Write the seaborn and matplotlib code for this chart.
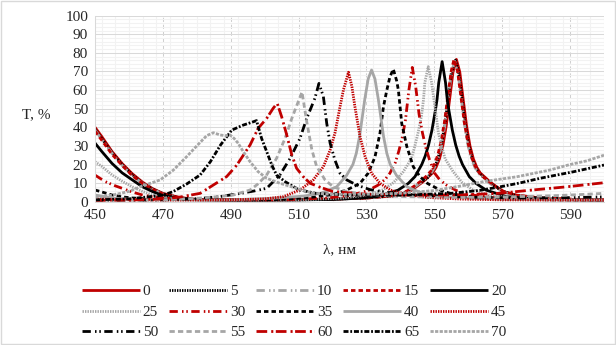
import matplotlib
matplotlib.use("Agg")
import matplotlib.pyplot as plt
from matplotlib.ticker import MultipleLocator
from matplotlib.patches import Rectangle
import pandas as pd
import seaborn as sns

# ---------------- data ----------------
angles = [0, 5, 10, 15, 20, 25, 30, 35, 40, 45, 50, 55, 60, 65, 70]

wl_0 = [450, 452, 455, 458, 461, 464, 467, 470, 475, 480, 490, 500, 510, 520, 530, 538, 542.5, 544.5, 546.5, 548,
        549.5, 550.5, 551.5, 552.5, 553.5, 554.5, 555.5, 556.5, 557.5, 558.5, 559.5, 560.5, 561.5, 562.5, 563.5,
        565, 566.5, 568.5, 570.5, 574.5, 581.5, 591.5, 600]
t_0 = [40, 35, 27, 20.5, 15, 10.5, 7, 4.5, 2.2, 1.2, 1, 1, 1.1, 1.4, 2, 3.2, 5.3, 7.8, 10.5, 13,
       15.5, 18.5, 23, 30, 40.7, 55, 69.7, 76.5, 69.7, 55, 40.7, 30, 23, 18.5, 15.5,
       13, 10.5, 7.8, 5.4, 3.3, 2, 1.2, 1]

wl_5 = [450, 452, 455, 458, 461, 464, 467, 470, 475, 480, 490, 500, 510, 520, 530, 538, 542, 544, 546, 548,
        549, 550, 551, 552, 553, 554, 555, 556.2, 557, 558, 559, 560, 561, 562, 563, 564.5, 566, 568, 570,
        574, 581, 591, 600]
t_5 = [39, 34, 26.5, 20, 14.5, 10, 6.8, 4.3, 2.1, 1.1, 0.9, 0.9, 1, 1.3, 2, 3.1, 5.2, 7.7, 10.4, 12.8,
       15.3, 18.3, 22.8, 29.8, 40.4, 54.6, 69.2, 76, 71, 58, 43, 32, 24, 19, 16, 13.2, 10.8, 8, 5.7,
       3.4, 2, 1.2, 1]

wl_10 = [450, 452, 455, 458, 461, 464, 467, 470, 475, 480, 490, 500, 510, 520, 530, 538, 542, 544, 546, 547.5,
         549, 550, 551, 552, 553, 554, 555, 556, 557, 558, 559, 560, 561, 562, 563, 564.5, 566, 568, 570,
         574, 581, 591, 600]
t_10 = [38.5, 33.5, 26, 19.5, 14, 9.8, 6.6, 4.2, 2, 1.1, 0.9, 0.9, 1, 1.3, 2, 3.2, 5.3, 7.7, 10.3, 12.8,
        15.3, 18.3, 22.7, 29.6, 40, 54.3, 68.8, 75.5, 68.8, 54.3, 40, 29.6, 22.7, 18.3, 15.3, 12.8, 10.3, 7.7, 5.3,
        3.3, 2, 1.2, 1]

wl_15 = [450, 452, 455, 458, 461, 464, 467, 470, 475, 480, 490, 500, 510, 520, 531, 538, 542, 544, 546, 547.5,
         549, 550, 551, 552, 553, 554, 555, 555.8, 556.8, 557.8, 558.8, 559.8, 560.8, 561.8, 562.8, 564.3, 566,
         568, 570, 574, 581, 591, 600]
t_15 = [38, 33, 25.5, 19.5, 14, 9.8, 6.6, 4.2, 2.1, 1.2, 1, 1, 1.1, 1.4, 2.1, 3.4, 5.8, 8.3, 11, 13.5,
        16.5, 20, 25, 32.5, 43, 57, 70.5, 76.5, 70.5, 57, 43, 32.5, 25, 20, 16.5, 13.5, 11,
        8.3, 5.8, 3.6, 2.1, 1.3, 1.1]

wl_20 = [450, 452, 455, 458, 461, 464, 467, 470, 475, 480, 490, 500, 510, 520, 527, 533, 539.3, 542.3, 544.3,
         546.3, 547.3, 548.3, 549.3, 550.3, 550.8, 551.3, 552.3, 553.3, 553.8, 554.3, 555.3, 556.3, 557.3, 558.3,
         560.3, 562.3, 565.3, 571.3, 577, 587, 600]
t_20 = [31.5, 27, 20.6, 15.5, 11.7, 8, 5.4, 3.3, 1.8, 1.1, 0.9, 0.9, 1, 1.2, 1.8, 2.7, 6.2, 9.8, 13.5,
        20, 24.5, 30.5, 38.5, 49, 55, 64, 75.3, 64, 55, 49, 38.5, 30.5, 24.5, 20,
        13.5, 9.8, 6.2, 2.7, 1.8, 1.1, 0.9]

wl_25 = [450, 452, 455, 458, 461, 464, 467, 470, 475, 480, 490, 500, 510, 515, 523, 530, 535, 538, 540.8,
         543.2, 544.2, 545.2, 546.2, 546.8, 547.2, 548.2, 549.2, 549.9, 550.7, 551.2, 552.2, 553.2, 555.6,
         558.2, 561.2, 566.2, 573, 583, 600]
t_25 = [21.5, 19, 14.4, 11, 8, 5.5, 3.6, 2.4, 1.4, 1, 0.9, 0.9, 1, 1.3, 2, 3.5, 6.5, 10.3, 16,
        23, 29.5, 37, 46, 54.7, 64, 72.6, 64, 54.7, 44, 37, 29.5, 23, 16,
        10.3, 6.5, 3.5, 2, 1.2, 1]

wl_30 = [450, 453, 456, 458, 461, 464, 467, 470, 475, 480, 490, 500, 508.5, 518.5, 525.5, 530.5, 533.5, 535.5,
         536.9, 538.5, 539.5, 540.5, 541.5, 542.5, 543.5, 544.5, 545.5, 546.5, 547.5, 548.5, 550.1, 551.5,
         553.5, 556.5, 561.5, 568.5, 578.5, 600]
t_30 = [14.3, 10.8, 8.5, 7.2, 5.2, 3.6, 2.6, 2, 1.5, 1.2, 1, 1, 1.2, 2, 3.5, 6, 9, 12,
        15.3, 21, 27, 34, 44, 60, 72.2, 62, 47, 37, 29, 23, 15.3, 12,
        9, 6, 3.5, 2, 1.2, 1]

wl_35 = [450, 453, 455, 458, 461, 465, 470, 480, 490, 500, 505, 513, 520, 524.2, 528.1, 530.5, 532.5, 534,
         535, 536, 536.9, 537.9, 538.9, 539.4, 540.4, 541.9, 543.8, 545.8, 548, 552, 556, 563, 573, 585, 600]
t_35 = [6.3, 4.7, 3.6, 2.6, 2, 1.6, 1.3, 1.1, 1, 1, 1.2, 2.2, 3.8, 6.3, 9.9, 15.3, 24, 37,
        51, 60, 67, 71.3, 65, 60, 42, 29.6, 18.8, 13.4, 9.8, 6, 3.8, 2.2, 1.3, 1, 0.9]

wl_40 = [450, 455, 461, 470, 480, 490, 501.5, 511.5, 516.5, 521.2, 524.1, 526, 527, 528, 528.5, 529.5, 530.5,
         531.5, 532.5, 533.5, 534.5, 535, 536, 537, 538.9, 541.9, 546.5, 551.5, 561.5, 571.5, 585, 600]
t_40 = [3.6, 2, 1.2, 1, 0.9, 1, 1.8, 3, 4.5, 8, 14, 20, 26, 35.4, 42, 55, 66,
        70.8, 66, 55, 42, 35.4, 26, 20, 14, 8, 4.5, 3, 1.8, 1.2, 1, 0.9]

wl_45 = [450, 460, 470, 480, 490, 500, 505.5, 510.4, 514.3, 517.3, 519.3, 520.7, 522.2, 523.2, 524.7, 525.7,
         526.6, 528.1, 529.6, 531.5, 534, 537, 541, 548, 558, 570, 585, 600]
t_45 = [1.5, 1, 0.9, 0.9, 1, 1.5, 2.7, 6.3, 11.7, 18.8, 27.8, 36.8, 51, 60, 69.6, 62,
        51, 35, 24.2, 15.3, 9.9, 6.3, 4, 2.3, 1.4, 1, 0.9, 0.9]

wl_50 = [450, 460, 470, 480, 487, 493, 497, 500.6, 504.5, 507.5, 510.4, 512.4, 514.8, 516, 517.3, 518.3,
         519.3, 520.7, 522.2, 524.2, 527.1, 531, 536, 545, 560, 575, 590, 600]
t_50 = [0.8, 0.8, 1, 1.6, 2.8, 4.5, 5.8, 7.2, 14.4, 23.3, 34, 44.8, 55.6, 63.6, 56.5, 42,
        31.4, 22.4, 15.3, 11.7, 9, 6.5, 5, 3.5, 2.5, 2, 2.2, 2.6]

wl_55 = [450, 460, 470, 480, 486, 490.8, 495.7, 498, 500.6, 503.5, 506, 508, 509.9, 511, 512.4, 513.9, 515.3,
         517.8, 520.2, 524.2, 530, 540, 555, 570, 585, 595, 600]
t_55 = [0.8, 0.8, 1, 1.8, 2.7, 3.6, 6.3, 9.5, 14.4, 23.3, 34, 44.8, 53.8, 59, 43, 28, 19,
        11.7, 8, 5.4, 3.8, 2.8, 2.3, 2.5, 3.2, 4, 4.5]

wl_60 = [450, 460, 470, 475, 481, 484.9, 488.8, 491.8, 495.7, 498.1, 500.6, 502.5, 503.7, 505, 506.5, 508,
         509.4, 511.4, 513.4, 516, 520, 530, 545, 560, 569, 579, 589, 600]
t_60 = [0.8, 0.9, 1.5, 2.5, 4.5, 9, 13.5, 19.7, 30.5, 39.5, 44.8, 50.2, 52.9, 45.7, 35.9, 25.1,
        18, 13.4, 9.9, 8, 5.5, 4, 3.5, 3.8, 4.5, 6.3, 8, 10.2]

wl_65 = [450, 460, 470, 473, 477, 481, 484, 487, 490.3, 493.7, 496.7, 497.6, 499.1, 500.6, 502.1, 503.5, 506,
         510, 515, 525, 540, 555, 563, 569.4, 575, 581.2, 591, 600]
t_65 = [1, 1.5, 3.5, 5.4, 9.5, 14.4, 21.5, 30.5, 38.5, 41.2, 43, 43.6, 34, 26.9, 19.7, 14.4, 10.8,
        6.5, 4.5, 3.5, 3.5, 4.5, 6, 8, 10, 12.6, 16.1, 19.7]

wl_70 = [450, 455, 460, 463.3, 469.2, 473.1, 477, 480, 482.9, 484.9, 486.8, 488.5, 489.8, 491, 492.2, 493.7,
         495.7, 498.1, 500.6, 504.5, 509.4, 514.3, 520, 530, 540, 550, 558, 564.5, 574.3, 584, 590, 595, 600]
t_70 = [2.5, 3.5, 5.5, 8, 11.7, 17, 24.2, 30, 35.5, 37.1, 35.9, 35.5, 35.9, 34, 31.4, 26.9,
        21.5, 16.1, 12.6, 9.9, 7.2, 4.5, 4, 4, 4.5, 6, 8.5, 10.8, 13.4, 17, 20, 22, 25]

series_wl = [wl_0, wl_5, wl_10, wl_15, wl_20, wl_25, wl_30, wl_35, wl_40, wl_45, wl_50, wl_55, wl_60, wl_65, wl_70]
series_t = [t_0, t_5, t_10, t_15, t_20, t_25, t_30, t_35, t_40, t_45, t_50, t_55, t_60, t_65, t_70]

x_ticks = [450, 470, 490, 510, 530, 550, 570, 590]
y_ticks = [0, 10, 20, 30, 40, 50, 60, 70, 80, 90, 100]

# ---------------- styles ----------------
RED, BLACK, GRAY = "#C00000", "#000000", "#A6A6A6"
SOLID = "-"
ROUND_DOT = (0, (1.0, 0.8))
LDDD = (0, (6.0, 3.0, 1.1, 2.0, 1.1, 2.5))
DASH = (0, (3.2, 2.2))
DASH55 = (0, (3.8, 2.3))
LONG_DASH_DOT = (0, (7.7, 2.9, 1.5, 1.8))
DASH_DOT = (0, (3.6, 1.3, 1.3, 1.3))
SQUARE_DOT = (0, (2.3, 1.0))

line_colors = [RED, BLACK, GRAY, RED, BLACK, GRAY, RED, BLACK, GRAY, RED, BLACK, GRAY, RED, BLACK, GRAY]
line_styles = [SOLID, ROUND_DOT, LDDD, DASH, SOLID, ROUND_DOT, LDDD, DASH, SOLID, ROUND_DOT, LDDD, DASH55,
               LONG_DASH_DOT, DASH_DOT, SQUARE_DOT]

# ---------------- plot ----------------
sns.set_style("white")
plt.rcParams["font.family"] = ["Liberation Serif", "DejaVu Serif"]
plt.rcParams["lines.scale_dashes"] = False
plt.rcParams["font.size"] = 11

fig = plt.figure(figsize=(6.16, 3.45), dpi=100)
ax = fig.add_axes([95 / 616, 1 - 201.7 / 345, 509 / 616, 186 / 345])

handles = []
for ang, wl, tv, c, ls in zip(angles, series_wl, series_t, line_colors, line_styles):
    df = pd.DataFrame({"wl": wl, "T": tv})
    sns.lineplot(data=df, x="wl", y="T", ax=ax, color=c, linestyle=ls, linewidth=2.0,
                 sort=False, estimator=None, legend=False)
    ln = ax.lines[-1]
    ln.set_solid_capstyle("butt")
    handles.append(ln)

ax.set_xlim(450, 600)
ax.set_ylim(0, 100)
ax.set_xticks(x_ticks)
ax.xaxis.set_minor_locator(MultipleLocator(4))
ax.set_yticks(y_ticks)
ax.yaxis.set_minor_locator(MultipleLocator(2))

ax.grid(False)
ax.grid(which="minor", axis="both", color="#F2F2F2", linewidth=0.75, zorder=0)
ax.grid(which="major", axis="y", color="#D9D9D9", linewidth=0.75, zorder=0)
ax.grid(which="major", axis="x", color="#D0D0D0", linewidth=0.75, linestyle=(0, (3, 2)), zorder=0)
ax.set_axisbelow(True)

for s in ["top", "right"]:
    ax.spines[s].set_visible(False)
for s in ["left", "bottom"]:
    ax.spines[s].set_color("#D9D9D9")
    ax.spines[s].set_linewidth(0.75)

ax.tick_params(which="both", length=0)
ax.tick_params(axis="x", pad=5, labelsize=11)
ax.tick_params(axis="y", pad=5, labelsize=11)

ax.set_xlabel("λ, нм", fontsize=11)
ax.xaxis.set_label_coords((340 - 95) / 509, (201.7 - 243) / 186)
ax.set_ylabel("T, %", fontsize=11, rotation=0, ha="center", va="center")
ax.yaxis.set_label_coords((36 - 95) / 509, (201.7 - 115) / 186)

order = [0, 5, 10, 1, 6, 11, 2, 7, 12, 3, 8, 13, 4, 9, 14]
leg = fig.legend([handles[i] for i in order], [str(angles[i]) for i in order],
                 ncol=5, loc="center", bbox_to_anchor=(294 / 616, 1 - 312 / 345),
                 frameon=False, fontsize=11, handlelength=3.8, handletextpad=0.2,
                 columnspacing=0.7, labelspacing=0.45, borderpad=0, borderaxespad=0)

fig.patches.append(Rectangle((0.001, 0.002), 0.997, 0.995, transform=fig.transFigure,
                             fill=False, edgecolor="#D9D9D9", linewidth=1))

fig.savefig("out.png", dpi=100, facecolor="white")
